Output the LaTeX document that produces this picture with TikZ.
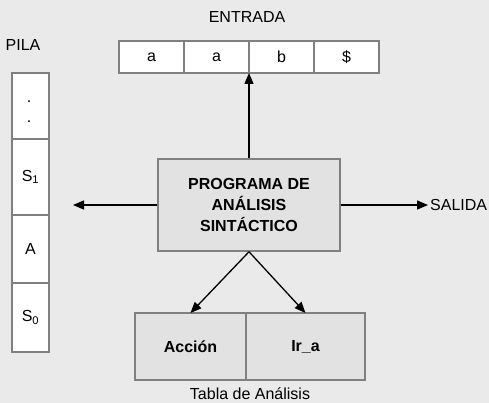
\documentclass[tikz,border=0pt]{standalone}
\usepackage{fontspec}
\setmainfont{Liberation Sans}
\usetikzlibrary{positioning,arrows.meta}
\definecolor{fondo}{RGB}{234,234,234}
\definecolor{caja}{RGB}{226,226,226}
\definecolor{borde}{RGB}{128,128,128}

\begin{document}
\begin{tikzpicture}[x=1pt, y=-1pt, font=\fontsize{16}{21}\selectfont]
    \tikzset{
        celda/.style = {rectangle, draw=borde, line width=1.5pt, fill=white, inner sep=0pt, outer sep=0pt, minimum width=65pt, minimum height=32pt},
        pila/.style = {celda, minimum width=37pt},
        prog/.style = {rectangle, draw=borde, line width=1.5pt, fill=caja, minimum width=182pt, minimum height=92pt, align=center, font=\fontsize{16}{21}\selectfont\bfseries},
        tabla/.style = {celda, fill=caja, minimum height=67pt, font=\fontsize{16}{21}\selectfont\bfseries},
        arrow/.style = {line width=1.3pt, -{Stealth[length=11pt, width=9pt, inset=0pt]}}
    }
    \fill[fondo] (0,0) rectangle (489,403);
    \useasboundingbox (0,0) rectangle (489,403);

    % entrada
    \node (entrada) at (247,17) {ENTRADA};
    \node (c1) [celda] at (151.5,57) {a};
    \node (c2) [celda, right=0pt of c1] {a};
    \node (c3) [celda, right=0pt of c2] {b};
    \node (c4) [celda, right=0pt of c3] {\$};

    % pila
    \node (pilaLabel) at (23,45) {PILA};
    \node (p1) [pila, minimum height=66pt] at (30.5,106) {};
    \node at (29,102) {.};
    \node at (29,122) {.};
    \node (p2) [pila, minimum height=76pt, below=0pt of p1] {S\textsubscript{1}};
    \node (p3) [pila, minimum height=68pt, below=0pt of p2] {A};
    \node (p4) [pila, minimum height=69pt, below=0pt of p3] {S\textsubscript{0}};

    % programa
    \node (prog) [prog] at (249,205) {PROGRAMA DE\\AN\'ALISIS\\SINT\'ACTICO};
    \coordinate (izq) at (73,205);
    \coordinate (der) at (428,205);
    \node (salida) [right=2pt of der, inner sep=0pt] {SALIDA};

    % tabla
    \node (accion) [tabla, minimum width=111pt] at (190.5,346.5) {Acci\'on};
    \node (ira) [tabla, minimum width=119pt, right=0pt of accion] {Ir\_a};
    \node (tablaLabel) at (250,394) {Tabla de An\'alisis};

    \draw [arrow] (prog.north) -- (c2.south east);
    \draw [arrow] (prog.west) -- (izq);
    \draw [arrow] (prog.east) -- (der);
    \draw [arrow] (prog.south) -- (accion.north);
    \draw [arrow] (prog.south) -- (ira.north);
\end{tikzpicture}
\end{document}
